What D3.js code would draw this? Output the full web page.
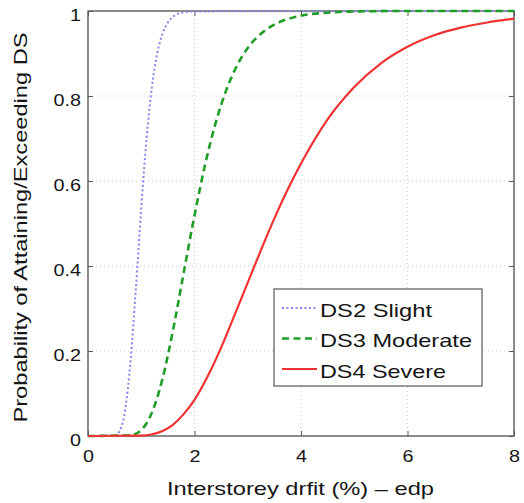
<!DOCTYPE html>
<html>
<head>
<meta charset="utf-8">
<script src="https://cdn.jsdelivr.net/npm/d3@7"></script>
<style>
  html, body { margin: 0; padding: 0; background: #fff; }
  svg { display: block; font-family: "Liberation Sans", Arial, Helvetica, sans-serif; }
</style>
</head>
<body>
<svg id="chart" width="524" height="503"></svg>
<script>
// Fragility curves: probability of attaining/exceeding each damage state
// as a function of interstorey drift (%).
const seriesNames = ["DS2 Slight", "DS3 Moderate", "DS4 Severe"];

const ds2Drift = [0, 0.5, 0.6, 0.7, 0.8, 0.9, 1.0, 1.1, 1.2, 1.3, 1.4, 1.5, 1.6, 1.8, 2.0, 8];
const ds2Prob  = [0, 0.001, 0.013, 0.063, 0.178, 0.349, 0.537, 0.700, 0.821, 0.900, 0.947, 0.973, 0.987, 0.997, 0.999, 1];

const ds3Drift = [0, 0.8, 1.0, 1.2, 1.4, 1.6, 1.8, 2.0, 2.2, 2.4, 2.6, 2.8, 3.0, 3.3, 3.6, 4.0, 4.5, 5.0, 6.0, 8];
const ds3Prob  = [0, 0.002, 0.014, 0.055, 0.135, 0.251, 0.386, 0.519, 0.639, 0.738, 0.815, 0.872, 0.913, 0.952, 0.974, 0.989, 0.996, 0.999, 1, 1];

const ds4Drift = [0, 1.0, 1.2, 1.4, 1.6, 1.8, 2.0, 2.25, 2.5, 2.75, 3.0, 3.25, 3.5, 3.75, 4.0, 4.5, 5.0, 5.5, 6.0, 6.5, 7.0, 7.5, 8.0];
const ds4Prob  = [0, 0.001, 0.004, 0.012, 0.027, 0.052, 0.085, 0.141, 0.208, 0.284, 0.361, 0.438, 0.512, 0.580, 0.641, 0.745, 0.821, 0.877, 0.916, 0.943, 0.961, 0.973, 0.982];

const xTicks = [0, 2, 4, 6, 8];
const yTicks = [0, 0.2, 0.4, 0.6, 0.8, 1];
const xLabel = "Interstorey drfit (%) \u2013 edp";
const yLabel = "Probability of Attaining/Exceeding DS";

// ---- layout & styles ----
const plot = { left: 88, right: 514, top: 11, bottom: 436 };
const styles = [
  { color: "#8585ec", width: 2, dash: "2,2.5" },
  { color: "#1f9e27", width: 2.6, dash: "7,4.5" },
  { color: "#f03232", width: 2.2, dash: null }
];
const textColor = "#151515";
const axisColor = "#5a5a5a";

const series = [
  { name: seriesNames[0], pts: ds2Drift.map((d, i) => [d, ds2Prob[i]]) },
  { name: seriesNames[1], pts: ds3Drift.map((d, i) => [d, ds3Prob[i]]) },
  { name: seriesNames[2], pts: ds4Drift.map((d, i) => [d, ds4Prob[i]]) }
];

const svg = d3.select("#chart");
svg.append("rect").attr("width", 524).attr("height", 503).attr("fill", "#fff");

const x = d3.scaleLinear().domain([0, 8]).range([plot.left, plot.right]);
const y = d3.scaleLinear().domain([0, 1]).range([plot.bottom, plot.top]);

// stretch a text element horizontally to widen the glyphs
function stretch(sel, k) {
  sel.each(function () {
    const w = this.getComputedTextLength();
    this.setAttribute("textLength", (w * k).toFixed(1));
    this.setAttribute("lengthAdjust", "spacingAndGlyphs");
  });
}

// dotted grid
const grid = svg.append("g").attr("stroke", "#cccccc").attr("stroke-width", 1)
  .attr("stroke-dasharray", "1,3");
grid.selectAll(".gx").data(xTicks.filter(t => t > 0 && t < 8)).join("line")
  .attr("x1", d => x(d)).attr("x2", d => x(d))
  .attr("y1", plot.top).attr("y2", plot.bottom);
grid.selectAll(".gy").data(yTicks.filter(t => t > 0 && t < 1)).join("line")
  .attr("x1", plot.left).attr("x2", plot.right)
  .attr("y1", d => y(d)).attr("y2", d => y(d));

// axes with inward ticks on all four sides
const tickLen = 5;
const gBottom = svg.append("g").attr("transform", `translate(0,${plot.bottom})`)
  .call(d3.axisBottom(x).tickValues(xTicks).tickSizeInner(-tickLen).tickSizeOuter(0).tickFormat(d3.format("d")));
const gLeft = svg.append("g").attr("transform", `translate(${plot.left},0)`)
  .call(d3.axisLeft(y).tickValues(yTicks).tickSizeInner(-tickLen).tickSizeOuter(0)
    .tickFormat(d => d === 0 || d === 1 ? String(d) : d3.format(".1f")(d)));
const gTop = svg.append("g").attr("transform", `translate(0,${plot.top})`)
  .call(d3.axisTop(x).tickValues(xTicks).tickSizeInner(-tickLen).tickSizeOuter(0).tickFormat(""));
const gRight = svg.append("g").attr("transform", `translate(${plot.right},0)`)
  .call(d3.axisRight(y).tickValues(yTicks).tickSizeInner(-tickLen).tickSizeOuter(0).tickFormat(""));

[gBottom, gLeft, gTop, gRight].forEach(g => {
  g.select(".domain").remove();
  g.selectAll(".tick line").attr("stroke", axisColor).attr("stroke-width", 1);
  g.attr("font-family", null).attr("font-size", null);
});

gBottom.selectAll(".tick text")
  .attr("y", 25.5).attr("dy", null)
  .attr("fill", textColor).attr("font-size", 16.5)
  .call(stretch, 1.2);
gLeft.selectAll(".tick text")
  .attr("x", -7).attr("dy", null).attr("y", 9.5)
  .attr("fill", textColor).attr("font-size", 16.5)
  .call(stretch, 1.2);

// axes box
svg.append("rect")
  .attr("x", plot.left).attr("y", plot.top)
  .attr("width", plot.right - plot.left).attr("height", plot.bottom - plot.top)
  .attr("fill", "none").attr("stroke", axisColor).attr("stroke-width", 1.4);

// fragility curves
const line = d3.line().x(d => x(d[0])).y(d => y(d[1])).curve(d3.curveMonotoneX);
svg.append("g").selectAll("path").data(series).join("path")
  .attr("d", d => line(d.pts))
  .attr("fill", "none")
  .attr("stroke", (d, i) => styles[i].color)
  .attr("stroke-width", (d, i) => styles[i].width)
  .attr("stroke-dasharray", (d, i) => styles[i].dash)
  .attr("stroke-linejoin", "round");

// axis labels
svg.append("text")
  .attr("x", 300.5).attr("y", 495)
  .attr("text-anchor", "middle").attr("font-size", 19).attr("fill", textColor)
  .attr("textLength", 267).attr("lengthAdjust", "spacingAndGlyphs")
  .text(xLabel);
svg.append("text")
  .attr("transform", "translate(26.5,227.5) rotate(-90)")
  .attr("text-anchor", "middle").attr("font-size", 19).attr("fill", textColor)
  .attr("textLength", 390).attr("lengthAdjust", "spacingAndGlyphs")
  .text(yLabel);

// legend
const legend = { x: 274, y: 289, w: 208, h: 97, row0: 308, rowGap: 30.5, lineX1: 282, lineX2: 317, textX: 320 };
const legendTextWidths = [112, 152, 126];
const lg = svg.append("g");
lg.append("rect")
  .attr("x", legend.x).attr("y", legend.y).attr("width", legend.w).attr("height", legend.h)
  .attr("fill", "#fff").attr("stroke", "#555").attr("stroke-width", 1.2);
const rows = lg.selectAll("g.row").data(series).join("g").attr("class", "row")
  .attr("transform", (d, i) => `translate(0,${legend.row0 + i * legend.rowGap})`);
rows.append("line")
  .attr("x1", legend.lineX1).attr("x2", legend.lineX2).attr("y1", 0).attr("y2", 0)
  .attr("stroke", (d, i) => styles[i].color)
  .attr("stroke-width", (d, i) => styles[i].width)
  .attr("stroke-dasharray", (d, i) => styles[i].dash);
rows.append("text")
  .attr("x", legend.textX).attr("y", 8.5)
  .attr("font-size", 19).attr("fill", textColor)
  .attr("textLength", (d, i) => legendTextWidths[i]).attr("lengthAdjust", "spacingAndGlyphs")
  .text(d => d.name);
</script>
</body>
</html>
